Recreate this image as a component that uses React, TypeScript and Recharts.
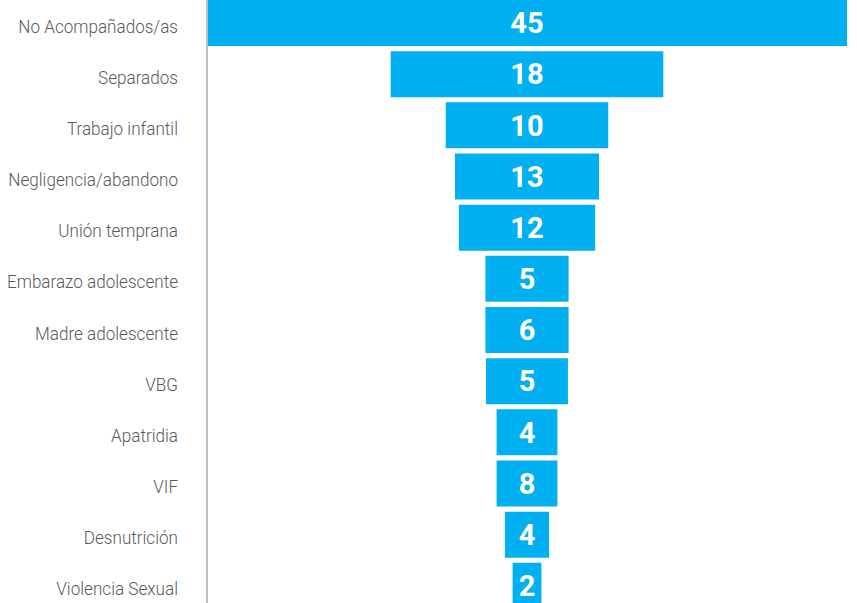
import { BarChart, Bar, XAxis, YAxis, LabelList } from "recharts";

const categories = [
  "No Acompañados/as",
  "Separados",
  "Trabajo infantil",
  "Negligencia/abandono",
  "Unión temprana",
  "Embarazo adolescente",
  "Madre adolescente",
  "VBG",
  "Apatridia",
  "VIF",
  "Desnutrición",
  "Violencia Sexual",
];

// number shown inside each bar
const counts = [45, 18, 10, 13, 12, 5, 6, 5, 4, 8, 4, 2];

// funnel bar length, as % of the top bar
const barShare = [100, 42.6, 25.4, 22.5, 21.3, 13, 13, 12.8, 9.5, 9.5, 6.9, 4.5];

const data = categories.map((name, i) => ({
  name,
  count: counts[i],
  span: [-barShare[i] / 2, barShare[i] / 2],
}));

// condensed look: no narrow font installed, so squeeze Roboto Light
function CategoryTick({ x, y, payload }: any) {
  return (
    <text
      x={0}
      y={0}
      dy={10}
      textAnchor="end"
      fill="#595959"
      fontSize={19}
      fontWeight={300}
      fontFamily="Roboto, sans-serif"
      transform={`translate(${x},${y}) scale(0.9,1)`}
    >
      {payload.value}
    </text>
  );
}

export default function App() {
  return (
    <div style={{ position: "absolute", left: 0, top: -3 }}>
      <BarChart
        width={857}
        height={614}
        data={data}
        layout="vertical"
        margin={{ top: 0, right: 10, left: 0, bottom: 0 }}
        barSize={46}
      >
        <XAxis type="number" domain={[-50, 50]} hide />
        <YAxis
          type="category"
          dataKey="name"
          width={207}
          tickLine={false}
          tickSize={0}
          tickMargin={29}
          axisLine={{ stroke: "#bfbfbf", strokeWidth: 2 }}
          tick={<CategoryTick />}
        />
        <Bar dataKey="span" fill="#00b0f0" isAnimationActive={false}>
          <LabelList
            dataKey="count"
            position="center"
            fill="#ffffff"
            style={{ fontSize: 29, fontWeight: 700, fontFamily: "Roboto, sans-serif" }}
          />
        </Bar>
      </BarChart>
    </div>
  );
}
